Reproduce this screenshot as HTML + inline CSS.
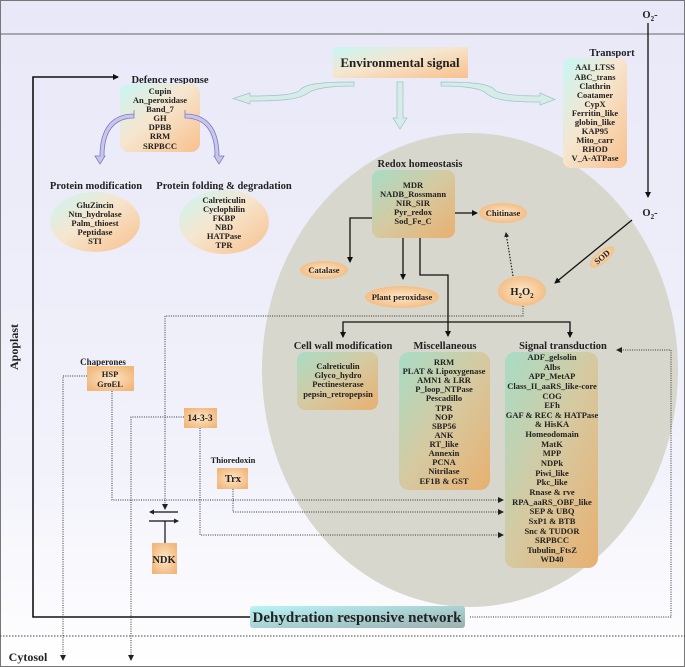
<!DOCTYPE html>
<html><head><meta charset="utf-8"><style>
html,body{margin:0;padding:0;background:#fff}
svg{display:block}
text{font-family:"Liberation Serif",serif;font-weight:bold;fill:#222;text-anchor:middle}
.s{font-size:8.5px}
.t{font-size:10.5px}
</style></head><body>
<svg width="685" height="667" viewBox="0 0 685 667" xmlns="http://www.w3.org/2000/svg">
<defs>
<linearGradient id="bg" x1="0" y1="0" x2="0" y2="1"><stop offset="0" stop-color="#e8e8f8"/><stop offset="0.7" stop-color="#f2f2fb"/><stop offset="1" stop-color="#ffffff"/></linearGradient>
<linearGradient id="cy" x1="0" y1="0" x2="1" y2="1"><stop offset="0" stop-color="#c8f6f4"/><stop offset="0.45" stop-color="#f6e6cf"/><stop offset="1" stop-color="#f8c08c"/></linearGradient>
<linearGradient id="gr" x1="0" y1="0" x2="1" y2="1"><stop offset="0" stop-color="#a8dcc6"/><stop offset="0.5" stop-color="#d6c9a0"/><stop offset="1" stop-color="#e8b070"/></linearGradient>
<radialGradient id="or" cx="0.5" cy="0.5" r="0.6"><stop offset="0" stop-color="#fde6c8"/><stop offset="1" stop-color="#f1b77a"/></radialGradient>
<linearGradient id="dn" x1="0" y1="0" x2="1" y2="1"><stop offset="0" stop-color="#b8f4f6"/><stop offset="1" stop-color="#9bb0b0"/></linearGradient>
<marker id="a" markerWidth="6" markerHeight="6" refX="5" refY="3" orient="auto" markerUnits="userSpaceOnUse"><path d="M0,0 L6,3 L0,6 z" fill="#111"/></marker>
<marker id="b" markerWidth="5" markerHeight="5" refX="4" refY="2.5" orient="auto" markerUnits="userSpaceOnUse"><path d="M0,0 L5,2.5 L0,5 z" fill="#222"/></marker>
</defs>
<rect x="0.5" y="0.5" width="684" height="666" fill="url(#bg)" stroke="#777"/>
<line x1="0" y1="34" x2="685" y2="34" stroke="#666"/>
<line x1="0" y1="636" x2="685" y2="636" stroke="#444" stroke-dasharray="1.5,1.5"/>
<ellipse cx="470" cy="370" rx="208" ry="237" fill="#d8d7cd"/>

<path d="M354,82 C320,82 305,84 300,90 C295,95 275,96 250,96 L250,93 L233,98.5 L250,104 L250,101 C285,101 300,99 308,93 C315,88 330,86 354,86 Z" fill="#d6ece8" stroke="#9cc4c0" stroke-width="0.7"/>
<path d="M441,82 C475,82 490,84 495,90 C500,95 520,96 540,96 L540,93 L555,99.5 L540,105 L540,102 C505,102 492,99 486,93 C480,88 465,86 441,86 Z" fill="#d6ece8" stroke="#9cc4c0" stroke-width="0.7"/>
<path d="M397,82 L403,82 L403,118 L407,118 L400,129 L393,118 L397,118 Z" fill="#d6ece8" stroke="#9cc4c0" stroke-width="0.7"/>
<rect x="333" y="47" width="135" height="31" fill="url(#cy)"/>
<text x="400" y="67" style="font-size:13px">Environmental signal</text>

<text x="170" y="83" class="t">Defence response</text>
<rect x="120" y="84" width="80" height="68" rx="9" fill="url(#cy)"/>
<g class="s"><text x="160" y="94">Cupin</text><text x="160" y="103">An_peroxidase</text><text x="160" y="112">Band_7</text><text x="160" y="121">GH</text><text x="160" y="130">DPBB</text><text x="160" y="139">RRM</text><text x="160" y="149">SRPBCC</text></g>
<path d="M134,114 L134,118 C110,118 100,135 100,160 L95,160 L100,168 L105,160 L104,160 C104,138 112,122 134,122 Z" fill="#c8c6ee" stroke="#7d7ab8" stroke-width="0.8" transform="translate(0,-4)"/>
<path d="M185,114 L185,118 C209,118 219,135 219,160 L224,160 L219,168 L214,160 L215,160 C215,138 207,122 185,122 Z" fill="#c8c6ee" stroke="#7d7ab8" stroke-width="0.8" transform="translate(0,-4)"/>

<text x="96" y="189" class="t">Protein  modification</text>
<ellipse cx="95" cy="222" rx="45" ry="30" fill="url(#cy)"/>
<g class="s"><text x="95" y="208">GluZincin</text><text x="95" y="217">Ntn_hydrolase</text><text x="95" y="226">Palm_thioest</text><text x="95" y="235">Peptidase</text><text x="95" y="244">STI</text></g>
<text x="224" y="189" class="t">Protein folding &amp; degradation</text>
<ellipse cx="224" cy="222" rx="45" ry="32" fill="url(#cy)"/>
<g class="s"><text x="224" y="203">Calreticulin</text><text x="224" y="212">Cyclophilin</text><text x="224" y="221">FKBP</text><text x="224" y="230">NBD</text><text x="224" y="239">HATPase</text><text x="224" y="248">TPR</text></g>

<text x="612" y="56" class="t">Transport</text>
<rect x="563" y="58" width="64" height="110" rx="8" fill="url(#cy)"/>
<g class="s"><text x="595" y="70">AAI_LTSS</text><text x="595" y="80">ABC_trans</text><text x="595" y="89">Clathrin</text><text x="595" y="98">Coatamer</text><text x="595" y="107">CypX</text><text x="595" y="116">Ferritin_like</text><text x="595" y="125">globin_like</text><text x="595" y="134">KAP95</text><text x="595" y="143">Mito_carr</text><text x="595" y="152">RHOD</text><text x="595" y="161">V_A-ATPase</text></g>

<text x="650" y="18" class="t">O<tspan style="font-size:7px" dy="3">2</tspan><tspan dy="-3">-</tspan></text>
<line x1="648" y1="23" x2="648" y2="197" stroke="#111" stroke-width="1.3" marker-end="url(#a)"/>
<text x="650" y="216" class="t">O<tspan style="font-size:7px" dy="3">2</tspan><tspan dy="-3">-</tspan></text>
<line x1="632" y1="220" x2="555" y2="283" stroke="#111" stroke-width="1.3" marker-end="url(#a)"/>
<ellipse cx="602" cy="257" rx="15" ry="6" fill="url(#or)" transform="rotate(-40 602 257)"/>
<text x="602" y="260" class="s" transform="rotate(-40 602 257)">SOD</text>

<text x="420" y="167" class="t">Redox homeostasis</text>
<rect x="372" y="170" width="83" height="68" rx="8" fill="url(#gr)"/>
<g class="s"><text x="413" y="188">MDR</text><text x="413" y="197">NADB_Rossmann</text><text x="413" y="206">NIR_SIR</text><text x="413" y="215">Pyr_redox</text><text x="413" y="224">Sod_Fe_C</text></g>
<polyline points="372,218 350,218 350,262" fill="none" stroke="#111" stroke-width="1.3" marker-end="url(#a)"/>
<line x1="403" y1="238" x2="403" y2="279" stroke="#111" stroke-width="1.3" marker-end="url(#a)"/>
<polyline points="420,238 420,275 448,275 448,336" fill="none" stroke="#111" stroke-width="1.3" marker-end="url(#a)"/>
<line x1="455" y1="213" x2="477" y2="213" stroke="#111" stroke-width="1.3" marker-end="url(#a)"/>
<polyline points="343,336 343,322 570,322 570,336" fill="none" stroke="#111" stroke-width="1.3"/>
<line x1="343" y1="330" x2="343" y2="337" stroke="#111" stroke-width="1.3" marker-end="url(#a)"/>
<line x1="570" y1="330" x2="570" y2="337" stroke="#111" stroke-width="1.3" marker-end="url(#a)"/>
<ellipse cx="503" cy="213" rx="24" ry="10" fill="url(#or)"/><text x="503" y="216" class="s">Chitinase</text>
<ellipse cx="324" cy="270" rx="24" ry="9" fill="url(#or)"/><text x="324" y="273" class="s">Catalase</text>
<ellipse cx="402" cy="297" rx="37" ry="11" fill="url(#or)"/><text x="402" y="300" class="s">Plant peroxidase</text>
<ellipse cx="522" cy="291" rx="24" ry="15" fill="url(#or)"/><text x="522" y="295" class="t">H<tspan style="font-size:7px" dy="3">2</tspan><tspan dy="-3">O</tspan><tspan style="font-size:7px" dy="3">2</tspan></text>
<line x1="513" y1="276" x2="506" y2="233" stroke="#222" stroke-width="1.2" stroke-dasharray="1.5,1.5" marker-end="url(#b)"/>
<polyline points="523,306 523,316 165,316 165,509" fill="none" stroke="#333" stroke-dasharray="1,1.3"/>
<path d="M162,504 L165,510 L168,504 z" fill="#222"/>

<text x="343" y="349" class="t">Cell wall modification</text>
<rect x="297" y="352" width="81" height="58" rx="8" fill="url(#gr)"/>
<g class="s"><text x="338" y="369">Calreticulin</text><text x="338" y="378">Glyco_hydro</text><text x="338" y="387">Pectinesterase</text><text x="338" y="397">pepsin_retropepsin</text></g>
<text x="445" y="349" class="t">Miscellaneous</text>
<rect x="399" y="352" width="91" height="138" rx="10" fill="url(#gr)"/>
<g class="s"><text x="444" y="365">RRM</text><text x="444" y="374">PLAT &amp; Lipoxygenase</text><text x="444" y="383">AMN1 &amp; LRR</text><text x="444" y="392">P_loop_NTPase</text><text x="444" y="401">Pescadillo</text><text x="444" y="411">TPR</text><text x="444" y="420">NOP</text><text x="444" y="429">SBP56</text><text x="444" y="438">ANK</text><text x="444" y="447">RT_like</text><text x="444" y="456">Annexin</text><text x="444" y="465">PCNA</text><text x="444" y="474">Nitrilase</text><text x="444" y="484">EF1B &amp; GST</text></g>
<text x="563" y="349" class="t">Signal transduction</text>
<rect x="505" y="352" width="93" height="216" rx="10" fill="url(#gr)"/>
<g class="s"><text x="552" y="360">ADF_gelsolin</text><text x="552" y="370">Albs</text><text x="552" y="379">APP_MetAP</text><text x="552" y="389">Class_II_aaRS_like-core</text><text x="552" y="399">COG</text><text x="552" y="408">EFh</text><text x="552" y="418">GAF &amp; REC &amp; HATPase</text><text x="552" y="427">&amp; HisKA</text><text x="552" y="437">Homeodomain</text><text x="552" y="447">MatK</text><text x="552" y="456">MPP</text><text x="552" y="466">NDPk</text><text x="552" y="476">Piwi_like</text><text x="552" y="485">Pkc_like</text><text x="552" y="495">Rnase &amp; rve</text><text x="552" y="505">RPA_aaRS_OBF_like</text><text x="552" y="514">SEP &amp; UBQ</text><text x="552" y="524">SxP1 &amp; BTB</text><text x="552" y="534">Snc &amp; TUDOR</text><text x="552" y="543">SRPBCC</text><text x="552" y="553">Tubulin_FtsZ</text><text x="552" y="562">WD40</text></g>

<text x="103" y="365" class="s" style="font-size:9px">Chaperones</text>
<rect x="87" y="366" width="47" height="25" fill="url(#or)"/>
<g class="s"><text x="110" y="377">HSP</text><text x="110" y="387">GroEL</text></g>
<polyline points="87,376 63,376 63,655" fill="none" stroke="#333" stroke-dasharray="1,1.3"/>
<path d="M60,655 L63,661 L66,655 z" fill="#222"/>
<polyline points="112,391 112,500 500,500" fill="none" stroke="#333" stroke-dasharray="1,1.3"/>
<path d="M498,497 L504,500 L498,503 z" fill="#222"/>
<rect x="184" y="408" width="33" height="20" fill="url(#or)"/>
<text x="200" y="421" class="s" style="font-size:9.5px">14-3-3</text>
<polyline points="184,417 131,417 131,655" fill="none" stroke="#333" stroke-dasharray="1,1.3"/>
<path d="M128,655 L131,661 L134,655 z" fill="#222"/>
<polyline points="200,428 200,535 500,535" fill="none" stroke="#333" stroke-dasharray="1,1.3"/>
<path d="M498,532 L504,535 L498,538 z" fill="#222"/>
<text x="233" y="463" class="s">Thioredoxin</text>
<rect x="217" y="468" width="31" height="21" fill="url(#or)"/>
<text x="233" y="482" class="t">Trx</text>
<polyline points="233,489 233,512 500,512" fill="none" stroke="#333" stroke-dasharray="1,1.3"/>
<path d="M498,509 L504,512 L498,515 z" fill="#222"/>
<line x1="178" y1="512" x2="150" y2="512" stroke="#111" stroke-width="1.2" marker-end="url(#b)"/>
<line x1="149" y1="521" x2="178" y2="521" stroke="#111" stroke-width="1.2" marker-end="url(#b)"/>
<line x1="165" y1="521" x2="165" y2="543" stroke="#111" stroke-width="1.2"/>
<rect x="152" y="543" width="25" height="31" fill="url(#or)"/>
<text x="164" y="563" class="t">NDK</text>

<polyline points="250,617 33,617 33,77 118,77" fill="none" stroke="#111" stroke-width="1.6" marker-end="url(#a)"/>
<rect x="250" y="606" width="215" height="22" rx="3" fill="url(#dn)"/>
<text x="357" y="622" style="font-size:15px">Dehydration responsive network</text>
<polyline points="470,617 671,617 671,350 620,350" fill="none" stroke="#333" stroke-dasharray="1,1.3"/>
<path d="M622,347 L616,350 L622,353 z" fill="#222"/>

<text x="18" y="347" transform="rotate(-90 18 347)" style="font-size:12px">Apoplast</text>
<text x="28" y="661" style="font-size:12px">Cytosol</text>
</svg>
</body></html>
